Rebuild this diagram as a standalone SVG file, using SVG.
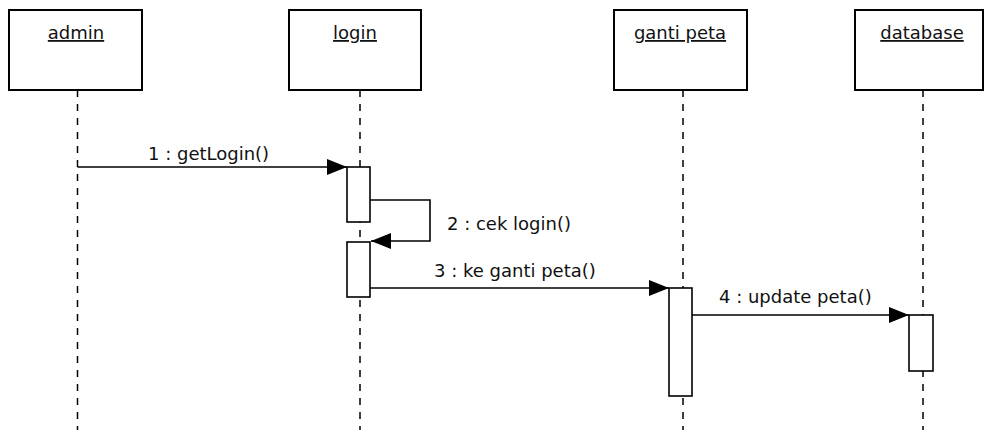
<svg xmlns="http://www.w3.org/2000/svg" width="984" height="430" viewBox="0 0 984 430">
<defs>
<style>
.box{fill:#fff;stroke:#000;stroke-width:2}
.life{stroke:#000;stroke-width:1.5;stroke-dasharray:7 7;fill:none}
.act{fill:#fff;stroke:#000;stroke-width:1.6}
.msg{stroke:#000;stroke-width:1.6;fill:none}
.t{font-family:"DejaVu Sans","Liberation Sans",sans-serif;font-size:18px;fill:#111}
.n{text-decoration:underline;text-anchor:middle}
</style>
<marker id="ah" viewBox="0 0 20 16" refX="20" refY="8" markerWidth="20" markerHeight="16" markerUnits="userSpaceOnUse" orient="auto">
<path d="M0,0 L20,8 L0,16 Z" fill="#000"/>
</marker>
</defs>
<rect width="984" height="430" fill="#fff"/>
<g id="admin">
<line class="life" x1="77.5" y1="90" x2="77.5" y2="430"/>
<rect class="box" x="9" y="10" width="133" height="80"/>
<text class="t n" x="76" y="39">admin</text>
</g>
<g id="login">
<line class="life" x1="360" y1="90" x2="360" y2="430"/>
<rect class="box" x="289" y="10" width="132" height="80"/>
<text class="t n" x="355" y="39">login</text>
<rect class="act" x="347" y="167" width="23" height="55"/>
<rect class="act" x="347" y="242" width="23" height="55"/>
</g>
<g id="ganti_peta">
<line class="life" x1="683" y1="90" x2="683" y2="430"/>
<rect class="box" x="614" y="10" width="133" height="80"/>
<text class="t n" x="680" y="39">ganti peta</text>
<rect class="act" x="669" y="288" width="23" height="108"/>
</g>
<g id="database">
<line class="life" x1="923" y1="90" x2="923" y2="430"/>
<rect class="box" x="855" y="10" width="128" height="80"/>
<text class="t n" x="922" y="39">database</text>
<rect class="act" x="909" y="315" width="24" height="56"/>
</g>
<g id="connectors">
<line class="msg" x1="77.5" y1="167" x2="347" y2="167" marker-end="url(#ah)"/>
<text class="t" x="148" y="160">1 : getLogin()</text>
<polyline class="msg" points="370,200 430,200 430,241 371,241" marker-end="url(#ah)"/>
<text class="t" x="447" y="230">2 : cek login()</text>
<line class="msg" x1="370" y1="288" x2="669" y2="288" marker-end="url(#ah)"/>
<text class="t" x="434" y="277">3 : ke ganti peta()</text>
<line class="msg" x1="692" y1="315" x2="909" y2="315" marker-end="url(#ah)"/>
<text class="t" x="719" y="303">4 : update peta()</text>
</g>
</svg>
